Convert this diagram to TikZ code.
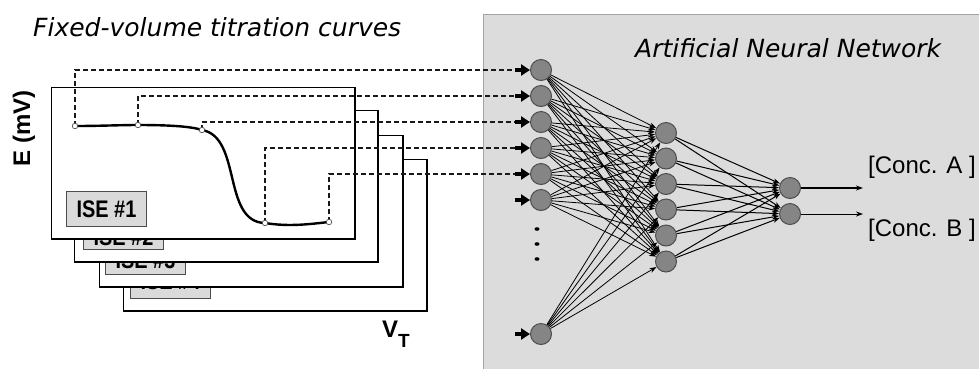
\documentclass[tikz,border=0pt]{standalone}
\usepackage{fontspec}
\setmainfont{Liberation Sans}
\newfontfamily\annfont{DejaVu Sans}
\usepackage{tikz}
\usetikzlibrary{arrows.meta,calc}
\definecolor{PanelGrey}{HTML}{DCDCDC}
\definecolor{PanelEdge}{HTML}{A3A3A3}
\definecolor{NeuronGrey}{HTML}{858585}
\definecolor{NeuronEdge}{HTML}{4D4D4D}
\definecolor{TagGrey}{HTML}{DADADA}

\begin{document}
\begin{tikzpicture}[x=1pt,y=-1pt,
  neuron/.style={circle,fill=NeuronGrey,draw=NeuronEdge,line width=1pt,minimum size=21pt,inner sep=0pt},
  card/.style={rectangle,fill=white,draw=black,line width=0.8pt,anchor=north west,minimum width=303pt,minimum height=151pt,inner sep=0pt},
  cardedge/.style={draw=black,line width=2pt},
  isetag/.style={rectangle,fill=TagGrey,draw=black!70,line width=1pt,anchor=south west,minimum width=80pt,minimum height=35pt,inner sep=0pt},
  tagtext/.style={inner sep=0pt,font=\bfseries\fontsize{24}{24}\selectfont},
  sample/.style={circle,fill=white,draw=black!70,line width=0.7pt,minimum size=5.5pt,inner sep=0pt},
  feed/.style={dash pattern=on 5pt off 3pt,line width=1.2pt,black!90},
  inarrow/.style={-{Triangle[length=9pt,width=11pt]},line width=3.5pt},
  link/.style={-{Stealth[length=7pt,width=5pt]},line width=0.8pt},
  outarrow/.style={-{Stealth[length=7pt,width=5pt]}},
  italictitle/.style={anchor=west,inner sep=0pt,font=\annfont\itshape\fontsize{25}{30}\selectfont},
  conc/.style={anchor=west,inner sep=0pt,font=\fontsize{24}{28}\selectfont}]
  \useasboundingbox (0,0) rectangle (979,368);
  \draw[fill=PanelGrey,draw=PanelEdge,line width=1pt] (483,14) rectangle (985,375);

  \node[italictitle] (curvestitle) at (33,27) {Fixed-volume titration curves};
  \node[italictitle] (anntitle) at (635,48) {Artificial Neural Network};

  \foreach \k/\cx/\cy/\tx/\ty in {4/123/159/7/0, 3/99/135/6/3, 2/74/110/9/5, 1/51/87/15/0} {
    \node[card] (card\k) at (\cx,\cy) {};
    \draw[cardedge] (card\k.north east) -- (card\k.south east) -- (card\k.south west);
    \node[isetag] (tag\k) at ($(card\k.south west)+(\tx,-12)$) {};
    \node[tagtext] (tagtext\k) at ($(tag\k.center)+(0,\ty)$) {\scalebox{0.83}[1]{ISE \#\k}};
  }
  \node[rotate=90,inner sep=0pt,font=\bfseries\fontsize{24}{24}\selectfont] (ylabel) at (24,128) {E (mV)};
  \node[anchor=base west,inner sep=0pt,font=\bfseries\fontsize{24}{24}\selectfont] (xlabel) at (382,337) {V\raisebox{-10pt}{\fontsize{19}{19}\selectfont T}};

  \coordinate (p1) at (75,126);
  \coordinate (p2) at (138,125);
  \coordinate (p3) at (202,130);
  \coordinate (p4) at (265,223);
  \coordinate (p5) at (329,222);
  \draw[line width=2.4pt] (p1) .. controls (100,126) and (120,125) .. (p2)
    .. controls (165,125) and (190,126) .. (p3)
    .. controls (242,137) and (222,222) .. (p4)
    .. controls (290,227) and (310,224) .. (p5);

  \foreach \i/\y in {1/70,2/96,3/122,4/148,5/174,6/200,7/334}
    \node[neuron] (in\i) at (541,\y) {};
  \foreach \j/\y in {1/133,2/158.5,3/184,4/209.5,5/235.5,6/261.5}
    \node[neuron] (hid\j) at (666,\y) {};
  \node[neuron] (out1) at (790,188) {};
  \node[neuron] (out2) at (790,214) {};
  \foreach \y in {229,244,259}
    \fill (537,\y) ellipse (2.5 and 1.8);

  \foreach \i in {1,...,7}
    \foreach \j in {1,...,6}
      \draw[link] (in\i) -- (hid\j);
  \foreach \j in {1,...,6}
    \foreach \k in {1,2}
      \draw[link,line width=1pt] (hid\j) -- (out\k);

  \foreach \i in {1,...,7}
    \coordinate (tail\i) at ($(in\i.west)+(-15,0)$);
  \foreach \i in {1,...,5}
    \draw[feed] (p\i) |- (tail\i);
  \foreach \i in {1,...,7}
    \draw[inarrow] (tail\i) -- (in\i);
  \foreach \i in {1,...,5}
    \node[sample] (s\i) at (p\i) {};

  \coordinate (endA) at (863,188);
  \coordinate (endB) at (863,214);
  \draw[outarrow,line width=2pt] (out1) -- (endA);
  \draw[outarrow,line width=1pt] (out2) -- (endB);
  \node[conc] (concA) at (868,167) {[Conc. A ]};
  \node[conc] (concB) at (868,230) {[Conc. B ]};
\end{tikzpicture}
\end{document}
